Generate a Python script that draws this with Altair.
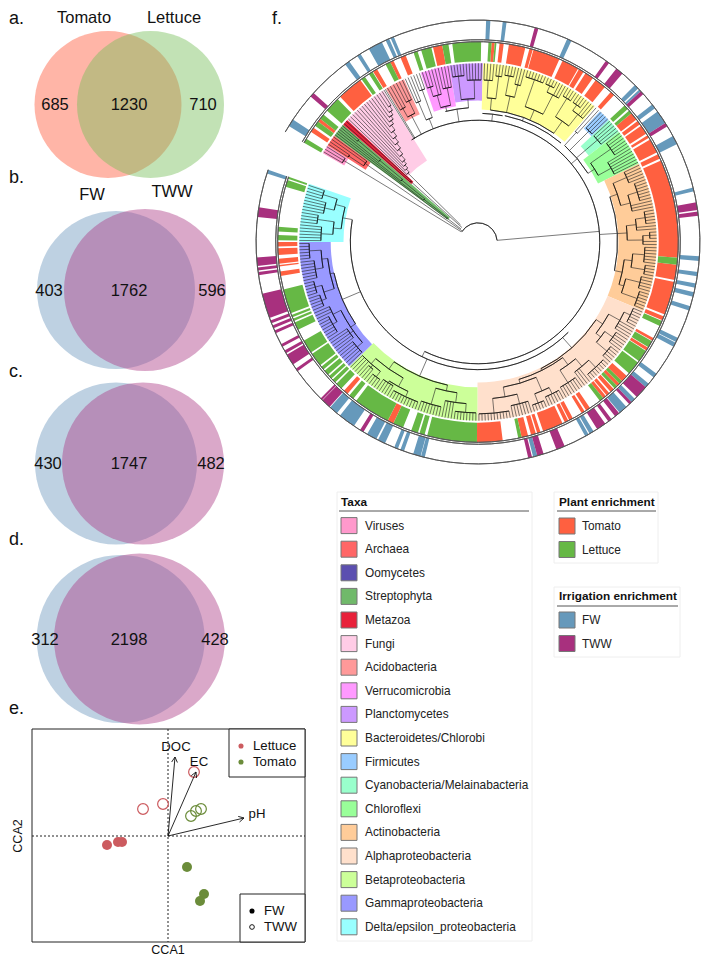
import math
import altair as alt
import pandas as pd

FONT = "Liberation Sans"
CX, CY = 478, 242
RS = 0.982   # the ring is squeezed slightly so that it stays inside the page margin
TIP = 182

# ---- panel f: enrichment rings, spans in degrees clockwise from north
TOMATO_SPANS = [(-56.6,-55.2),(-53,-52),(-43.5,-36),(-31.6,-30.3),(-26,-25),(-22.8,-21.2),(-13,-10.3),
 (3.9,4.8),(6.2,7.4),(8.9,13.7),(14.9,15.9),(16.1,24),(25,30),(30.3,31.8),(32.5,35),(36,39.3),(41.5,42.8),
 (50,52.3),(52.8,54),(54.5,57.2),(57.8,58.6),(59.2,63.4),(64,65.4),(66,94.5),(96.5,100.9),(101.5,111.2),(111.8,113),
 (118.7,119.5),(121.9,122.8),(132,134),(135,136),(137.3,138.5),(139,140),(140.3,141.3),
 (146,147.3),(147.8,148.8),(151.7,152.9),(153.2,154.3),(155,161),(161.8,162.8),(163.2,164.6),(165.5,167.4),(172.9,180.3),
 (205,206.8),(220.7,222),(260.2,261.5),(263,263.4),(263.8,265.2),(266.3,268.2),(268.7,270)]
LETTUCE_SPANS = [(-60.3,-59),(-54.5,-53),(-52,-50.5),(-49,-44.5),(-35.6,-34.4),(-33,-31.8),(-27.5,-26),(-18.8,-17.6),
 (-16.5,-13.5),(-10.3,-8.5),(-7.4,0.9),(3,3.9),(4.8,5.3),(47,48.4),(49,50),(94.5,96.5),(113.2,114.8),(119.7,121.7),
 (123,126.5),(127,131),(134,135),(136,137),(141.3,142.5),(167.4,168.4),(180.3,194.7),(195.5,197),(197.5,199.5),
 (202,205),(206.8,217.5),(218.5,220),(223,225),(225.5,226.6),(227,228),(228.5,230),(230.5,231.5),(232,236),
 (236.5,240.5),(244,246.3),(246.8,247.5),(247.9,248.6),(249.2,256.3),(270.5,272),(273,274.4),(286,288),(288.4,289)]
FW_SPANS = [(-58.5,-56.5),(-36.8,-35.5),(-33,-32),(-29.5,-25.7),(-24.6,-23.6),(-23.2,-22.3),(2.1,3.2),(6.4,7.4),(23.7,24.9),
 (45,46.2),(46.6,47.2),(51.7,52.9),(54,57.6),(61.5,63.8),(75.8,76.8),(93.7,94.9),(97.8,98.9),(100.8,101.9),(103.1,104.3),
 (106.8,108),(115.6,116.8),(117,118.2),(126.4,127.6),(129.7,130.9),(135,136.2),(138,140.3),(148.6,149.8),(150.1,151.1),
 (164.5,165.6),(193.9,194.9),(195,197),(199.5,200.5),(201.2,202.2),(204.8,206.8),(207.3,210),(214,218.5),(219.5,221.8),(288,289)]
TWW_SPANS = [(-49,-47.8),(14.8,15.8),(35.2,36.2),(38.6,40.6),(47.2,48.2),(57.6,58.6),(79.7,81.7),(82.1,83.2),(130.9,134.3),
 (136.2,137),(140.5,141.8),(143,144),(145,147.5),(157,159.3),(162.8,164.5),(165.9,166.9),(211.1,212.1),(222,224.5),
 (224.6,225.2),(234.4,235.2),(236.5,239.5),(239.9,240.7),(241.8,242.6),(245.7,246.5),(247.1,247.9),(248.5,249.3),
 (250,256.5),(261.4,262.2),(262.6,263.4),(263.8,266),(276.5,279)]

# ---- panel f: phylogeny. A node is (radius, children); an int child is that many tips
def lad(rs):
    node = (rs[-1], [2])
    for r in reversed(rs[:-1]):
        node = (r, [1, node])
    return node

TAXA_NAMES = ["Viruses","Archaea","Oomycetes","Streptophyta","Metazoa","Fungi","Acidobacteria","Verrucomicrobia",
 "Planctomycetes","Bacteroidetes/Chlorobi","Firmicutes","Cyanobacteria/Melainabacteria","Chloroflexi","Actinobacteria",
 "Alphaproteobacteria","Betaproteobacteria","Gammaproteobacteria","Delta/epsilon_proteobacteria"]
TAXA_COLORS = ["#ff99cc","#ff6666","#5b4fb0","#70b96a","#e8213a","#ffcce6","#ff9999","#ff99ff","#cc99ff","#ffff99",
 "#99ccff","#99ffcc","#99ff99","#ffcc99","#ffe0cc","#ccff99","#9999ff","#99ffff"]
COLOR = dict(zip(TAXA_NAMES, TAXA_COLORS))

CLADES = [
 ("Viruses",-60.2,-57.3,157,(160,[3]),20),
 ("Archaea",-57.3,-53.5,136,(140,[(158,[2]),2]),20),
 ("Streptophyta",-53.5,-49,38,lad([40,70,100,130,160]),22),
 ("Metazoa",-49,-47,90,(92,[2]),22),
 ("Fungi",-47,-32,98,lad([100,104,108,112,118,124,130,136,142,148,152,156,160,165]),25),
 (None,-32,-31,0,(124,[2]),124),
 ("Acidobacteria",-31,-24.5,143,(146,[(156,[3]),(160,[3])]),124),
 (None,-24.5,-18.7,0,(135,[(155,[3]),(165,[3])]),124),
 ("Verrucomicrobia",-18.7,-9.2,140,(142,[(155,[(165,[3]),2]),(160,[4])]),137),
 ("Planctomycetes",-9.2,1.6,144,(146,[(160,[(170,[5])]),(165,[6])]),137),
 ("Bacteroidetes/Chlorobi",1.6,40.8,135,(135,[(147,[(165,[4]),(170,[3])]),(152,[(172,[4]),(165,[3])]),
   (146,[(175,[7]),(168,[(175,[4]),3])]),(150,[(172,[4]),(165,[(172,[4]),3])])]),131),
 (None,40.8,43,0,(150,[2]),132),
 ("Firmicutes",43,47,158,(160,[4]),132),
 ("Cyanobacteria/Melainabacteria",47,52,143,(145,[(160,[5])]),132),
 ("Chloroflexi",52,64,136,(140,[(150,[(165,[6])]),(155,[6])]),132),
 ("Actinobacteria",64,112.6,143,(142,[(150,[(165,[5]),(160,[(170,[7]),3])]),(152,[(162,[(172,[5]),2]),(168,[(175,[3]),2])]),
   (150,[(158,[(170,[6]),(172,[4])]),(155,[(170,[5]),(172,[6])])])]),124),
 ("Alphaproteobacteria",112.6,180.2,143,(144,[(152,[(165,[(172,[6]),4]),(158,[(168,[5]),(172,[5])])]),
   (146,[(155,[(165,[(175,[8]),3]),(170,[7])]),(150,[(165,[(172,[6]),(175,[5])]),(160,[(170,[7]),(175,[11])])])])]),130),
 ("Betaproteobacteria",180.2,226,148,(149,[(155,[(165,[(174,[8]),4]),(172,[8])]),
   (158,[(168,[(174,[10]),(170,[5])]),(165,[(172,[4]),(168,[3]),4])])]),130),
 ("Gammaproteobacteria",226,270,150,(150,[(156,[(163,[6]),(160,[5]),(165,[(170,[7]),3])]),
   (154,[(165,[(170,[5]),(172,[5])]),(160,[(168,[7]),(172,[6])])])]),130),
 ("Delta/epsilon_proteobacteria",270,289,137,(140,[(148,[(160,[6]),(155,[(165,[4])])]),(150,[(160,[5]),(165,[4])])]),130),
]
BACKBONE_ARCS = [(-58,85,19.5),(-33,206,124),(135,280,130),(42,58,132),(-14,-4,137),(2,11,131),(12,40,131.5)]
BACKBONE_STEMS = [(85,19.5,124),(206,124,130),(50,124,132),(-9,124,137),(6.5,124,131)]

# ---- panels a-d: Venn circles and counts
VENN_LEFT = [(108,104.5,73.5,"#ff5a3c"),(116,290,79,"#6f99bf"),(116,463.5,81,"#6f99bf"),(120.7,639,84,"#6f99bf")]
VENN_RIGHT = [(150.5,104.5,73.5,"#78be5a"),(145,290,81,"#ae3e87"),(143,463.5,81,"#ae3e87"),(139.5,639,85.5,"#ae3e87")]
VENN_TEXT = [("Tomato",84,18),("Lettuce",174,18),("685",55,105),("1230",129,105),("710",203,105),
 ("FW",92,195),("TWW",172,192),("403",49,291),("1762",129,291),("596",212,291),
 ("430",48,464),("1747",129,464),("482",211,464),("312",45,640),("2198",129,640),("428",215,640)]
PANEL_LETTERS = [("a.",19),("b.",178),("c.",372),("d.",540),("e.",709)]

# ---- panel e: ordination
ORIGIN = (168,836)
E_POINTS = [("Lettuce","FW",107,845),("Lettuce","FW",118,842),("Lettuce","FW",122,842),
 ("Lettuce","TWW",143,809),("Lettuce","TWW",163,804),("Lettuce","TWW",194,772),
 ("Tomato","TWW",191,816),("Tomato","TWW",196,811),("Tomato","TWW",201,809),
 ("Tomato","FW",187,867),("Tomato","FW",204,894),("Tomato","FW",200,901)]
E_COLOR = {"Lettuce":"#cc5b5f","Tomato":"#6b8c3a"}
E_ARROWS = [("DOC",175,757,176,747),("EC",196,772,199,762),("pH",244,818,257,814)]

# ---- build tables
def to_xy(deg, r):
    t = math.radians(deg)
    return CX + RS*r*math.sin(t), CY - RS*r*math.cos(t)

def arc_row(a0, a1, r0, r1, col="#000000"):
    return dict(cx=CX, cy=CY, t0=math.radians(a0), t1=math.radians(a1), r0=RS*r0, r1=RS*r1, col=col)

fills, tree_arcs, tree_rules = [], [], []

def radial(a, r0, r1):
    x0,y0 = to_xy(a,r0); x1,y1 = to_xy(a,r1)
    tree_rules.append(dict(x0=x0,y0=y0,x1=x1,y1=y1))

def count(node):
    return sum(c if isinstance(c,int) else count(c) for c in node[1])

def draw(node, angles):
    r, kids = node
    got = []
    for c in kids:
        if isinstance(c,int):
            for _ in range(c):
                a = next(angles); radial(a,r,TIP); got.append(a)
        else:
            m = draw(c, angles); radial(m,c[0],r); got.append(m)
    tree_arcs.append(arc_row(got[0],got[-1],r,r))
    return (got[0]+got[-1])/2

for name,a0,a1,rin,tree,parent in CLADES:
    if name:
        fills.append(arc_row(a0,a1,rin,TIP,COLOR[name]))
    n = count(tree); d = (a1-a0)/n
    m = draw(tree, iter([a0+d*(i+.5) for i in range(n)]))
    radial(m,tree[0],parent)
for a0,a1,r in BACKBONE_ARCS:
    tree_arcs.append(arc_row(a0,a1,r,r))
for a,r0,r1 in BACKBONE_STEMS:
    radial(a,r0,r1)

TOM,LET,FW,TWW = "#ff6040","#66b845","#6699bb","#a8307e"
rings = [arc_row(a,b,184,204,TOM) for a,b in TOMATO_SPANS]+[arc_row(a,b,184,204,LET) for a,b in LETTUCE_SPANS]
rings += [arc_row(a,b,206,226,FW) for a,b in FW_SPANS]+[arc_row(a,b,206,226,TWW) for a,b in TWW_SPANS]
ring_lines = [arc_row(-60.3,289,r,r,"#555555") for r in (204,206,226)]

X = alt.Scale(domain=[8,701], nice=False, zero=False)
Y = alt.Scale(domain=[957,8], nice=False, zero=False)
def xq(f): return alt.X(f+":Q", scale=X, axis=None)
def yq(f): return alt.Y(f+":Q", scale=Y, axis=None)

def arcs(rows, **mk):
    return alt.Chart(pd.DataFrame(rows)).mark_arc(**mk).encode(x=xq("cx"),y=yq("cy"),
        theta=alt.Theta("t0:Q",scale=None),theta2="t1:Q",
        radius=alt.Radius("r1:Q",scale=None),radius2="r0:Q",
        fill=alt.Fill("col:N",scale=None))
def line_arcs(rows, **mk):
    return alt.Chart(pd.DataFrame(rows)).mark_arc(fillOpacity=0,**mk).encode(x=xq("cx"),y=yq("cy"),
        theta=alt.Theta("t0:Q",scale=None),theta2="t1:Q",
        radius=alt.Radius("r1:Q",scale=None),radius2="r0:Q",
        stroke=alt.Stroke("col:N",scale=None))
def rules(rows, **mk):
    return alt.Chart(pd.DataFrame(rows)).mark_rule(**mk).encode(x=xq("x0"),y=yq("y0"),x2="x1:Q",y2="y1:Q")
def rects(rows, **mk):
    return alt.Chart(pd.DataFrame(rows)).mark_rect(**mk).encode(x=xq("x0"),y=yq("y0"),x2="x1:Q",y2="y1:Q",
        fill=alt.Fill("col:N",scale=None))
def texts(rows, size, **mk):
    return alt.Chart(pd.DataFrame(rows,columns=["t","x","y"])).mark_text(font=FONT,fontSize=size,baseline="middle",
        color=mk.pop("color","#111111"),**mk).encode(x=xq("x"),y=yq("y"),text="t:N")

layers = []
# venn
def venn_rows(v): return [dict(cx=x,cy=y,t0=0,t1=2*math.pi,r0=0,r1=r,col=c) for x,y,r,c in v]
layers += [arcs(venn_rows(VENN_LEFT),opacity=.45), arcs(venn_rows(VENN_RIGHT),opacity=.45)]
layers.append(texts(VENN_TEXT,16.5,align="center"))
layers.append(texts([(t,9,y) for t,y in PANEL_LETTERS],18,align="left"))
layers.append(texts([("f.",272,19)],18,align="left"))

# phylogeny
layers += [arcs(fills), arcs(rings), line_arcs(ring_lines,strokeWidth=.9)]
layers += [line_arcs(tree_arcs,strokeWidth=.6), rules(tree_rules,strokeWidth=.6,color="#222222")]

# ordination
layers.append(rules([dict(x0=ORIGIN[0],y0=729,x1=ORIGIN[0],y1=942),dict(x0=32,y0=ORIGIN[1],x1=305,y1=ORIGIN[1])],
    strokeWidth=1,color="#222222",strokeDash=[2,2]))
pts = pd.DataFrame(E_POINTS,columns=["plant","irr","x","y"]); pts["col"]=pts.plant.map(E_COLOR)
layers.append(alt.Chart(pts[pts.irr=="FW"]).mark_point(filled=True,shape="circle",opacity=1,size=100).encode(
    x=xq("x"),y=yq("y"),fill=alt.Fill("col:N",scale=None)))
layers.append(alt.Chart(pts[pts.irr=="TWW"]).mark_point(filled=False,shape="circle",opacity=1,size=115,strokeWidth=1.2).encode(
    x=xq("x"),y=yq("y"),stroke=alt.Stroke("col:N",scale=None)))
arrow_rows=[]
for lab,x,y,_,_ in E_ARROWS:
    arrow_rows.append(dict(x0=ORIGIN[0],y0=ORIGIN[1],x1=x,y1=y))
    ang = math.atan2(y-ORIGIN[1],x-ORIGIN[0])
    for s in (-.5,.5):
        arrow_rows.append(dict(x0=x,y0=y,x1=x-6*math.cos(ang+s),y1=y-6*math.sin(ang+s)))
layers.append(rules(arrow_rows,strokeWidth=.9,color="#111111"))
layers.append(texts([(l,x,y) for l,_,_,x,y in E_ARROWS],13.2,align="center"))
layers.append(rects([dict(x0=32,y0=729,x1=305,y1=942,col="transparent")],stroke="#222222",strokeWidth=1))
layers.append(rects([dict(x0=229,y0=729,x1=305,y1=777,col="#ffffff"),dict(x0=240,y0=894,x1=305,y1=942,col="#ffffff")],stroke="#222222",strokeWidth=1))
leg = pd.DataFrame([dict(x=241,y=746,col=E_COLOR["Lettuce"]),dict(x=241,y=762,col=E_COLOR["Tomato"]),dict(x=252,y=911,col="#000000")])
layers.append(alt.Chart(leg).mark_point(filled=True,shape="circle",opacity=1,size=26).encode(x=xq("x"),y=yq("y"),fill=alt.Fill("col:N",scale=None)))
layers.append(alt.Chart(pd.DataFrame([dict(x=252,y=927)])).mark_point(filled=False,shape="circle",opacity=1,size=22,color="#000000",strokeWidth=.9).encode(x=xq("x"),y=yq("y")))
layers.append(texts([("Lettuce",253,746),("Tomato",253,762),("FW",264,911),("TWW",264,927)],13.2,align="left"))
layers.append(texts([("CCA1",168,950)],12.5,align="center"))
layers.append(texts([("CCA2",18,836)],12.5,align="center",angle=270))

# legends
frames = [dict(x0=337,y0=492,x1=532,y1=941,col="#ffffff"),dict(x0=554,y0=492,x1=658,y1=563,col="#ffffff"),dict(x0=554,y0=587,x1=680,y1=657,col="#ffffff")]
layers.append(rects(frames,stroke="#eeeeee",strokeWidth=1))
layers.append(rules([dict(x0=339,y0=511,x1=529,y1=511),dict(x0=557,y0=511,x1=656,y1=511),dict(x0=557,y0=606,x1=678,y1=606)],strokeWidth=1,color="#555555"))
layers.append(texts([("Taxa",341,502),("Plant enrichment",559,502),("Irrigation enrichment",559,596)],11.8,align="left",fontWeight="bold"))
boxes=[]; labs=[]
for i,(n,c) in enumerate(zip(TAXA_NAMES,TAXA_COLORS)):
    yc = 525.6+23.6*i
    boxes.append(dict(x0=341,x1=357,y0=yc-8,y1=yc+8,col=c)); labs.append((n,365,yc))
for n,c,yc in [("Tomato",TOM,526),("Lettuce",LET,549.5),("FW",FW,620),("TWW",TWW,643.5)]:
    boxes.append(dict(x0=559,x1=575,y0=yc-8,y1=yc+8,col=c)); labs.append((n,582,yc))
layers.append(rects(boxes,stroke="#777777",strokeWidth=1))
layers.append(texts(labs,11.85,align="left",color="#222222"))

chart = alt.layer(*layers).properties(width=693,height=949,padding=0,
    autosize=alt.AutoSizeParams(type="none")).configure_view(strokeWidth=0)
chart.save("out.html", embed_options={"renderer":"svg","actions":False})
